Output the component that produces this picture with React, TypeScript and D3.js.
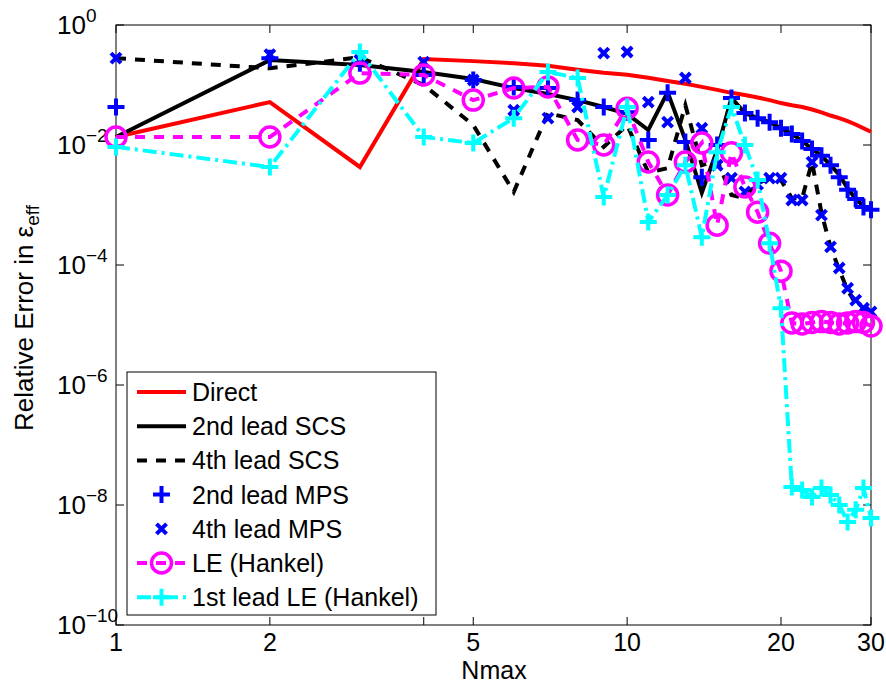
import React from 'react';
import * as d3 from 'd3';

const nmax = [1, 2, 3, 4, 5, 6, 7, 8, 9, 10, 11, 12, 13, 14, 15, 16, 17, 18, 19, 20, 21, 22, 23, 24, 25, 26, 27, 28, 29, 30];

const direct = [0.0136, 0.052, 0.0043, 0.27, 0.25, 0.23, 0.21, 0.18, 0.16, 0.148, 0.132, 0.117, 0.105, 0.093, 0.083, 0.074, 0.068, 0.062, 0.056, 0.05, 0.046, 0.043, 0.039, 0.035, 0.031, 0.028, 0.025, 0.022, 0.019, 0.0166];

const scs2 = [0.0136, 0.26, 0.215, 0.165, 0.126, 0.089, 0.071, 0.056, 0.043, 0.033, 0.0178, 0.076, 0.0121, 0.0016, 0.0083, 0.061, 0.034, 0.028, 0.024, 0.019, 0.0153, 0.0117, 0.0086, 0.0066, 0.0046, 0.0032, 0.0019, 0.00126, 0.00096, 0.00083];

const scs4 = [0.28, 0.19, 0.29, 0.1, 0.0215, 0.00165, 0.034, 0.026, 0.0093, 0.0215, 0.0035, 0.0041, 0.046, 0.0046, 0.0056, 0.00147, 0.0013, 0.0023, 0.0028, 0.0026, 0.0013, 0.0013, 0.0052, 0.00074, 0.0002, 8.3e-5, 3.8e-5, 2.3e-5, 1.8e-5, 1.65e-5];

const mps2 = [0.043, 0.28, 0.23, 0.147, 0.121, 0.093, 0.089, 0.056, 0.043, 0.035, 0.0121, 0.074, 0.0112, 0.0029, 0.01, 0.061, 0.034, 0.028, 0.024, 0.019, 0.0153, 0.0117, 0.0086, 0.0066, 0.0046, 0.0029, 0.0018, 0.00126, 0.00093, 0.00083];

const mps4 = [0.28, 0.32, 0.26, 0.24, 0.121, 0.038, 0.028, 0.043, 0.34, 0.355, 0.052, 0.024, 0.131, 0.019, 0.0046, 0.0028, 0.00165, 0.0022, 0.0028, 0.0028, 0.00121, 0.00121, 0.0052, 0.00068, 0.0002, 8.9e-5, 4.1e-5, 2.6e-5, 1.9e-5, 1.65e-5];

const leHankel = [0.0136, 0.0136, 0.158, 0.147, 0.056, 0.089, 0.093, 0.0121, 0.01, 0.041, 0.0052, 0.00147, 0.0052, 0.0108, 0.00046, 0.0074, 0.002, 0.00076, 0.00023, 7.9e-5, 1.08e-5, 1.04e-5, 1.1e-5, 1.14e-5, 1.1e-5, 1.04e-5, 1.08e-5, 1.14e-5, 1.1e-5, 9.6e-6];

const le1Hankel = [0.0093, 0.0043, 0.355, 0.0136, 0.0108, 0.028, 0.165, 0.131, 0.00136, 0.043, 0.00052, 0.00147, 0.0046, 0.00029, 0.0076, 0.043, 0.01, 0.0026, 0.00023, 1.9e-5, 2.0e-8, 1.78e-8, 1.36e-8, 1.92e-8, 1.47e-8, 1.0e-8, 5.2e-9, 8.3e-9, 1.92e-8, 6.1e-9];

const seriesNames = ['Direct', '2nd lead SCS', '4th lead SCS', '2nd lead MPS', '4th lead MPS', 'LE (Hankel)', '1st lead LE (Hankel)'];

const xTicks = [1, 2, 4, 5, 10, 20, 30];
const xTickLabels = ['1', '2', '', '5', '10', '20', '30'];
const yTickExps = [0, -2, -4, -6, -8, -10];

const FONT = '"Liberation Sans", Arial, Helvetica, sans-serif';

type Marker = 'none' | 'plus' | 'x' | 'circle';
interface Series {
  name: string;
  data: number[];
  color: string;
  dash: string | null;
  line: boolean;
  marker: Marker;
}

const series: Series[] = [
  { name: seriesNames[0], data: direct, color: '#ff0000', dash: null, line: true, marker: 'none' },
  { name: seriesNames[1], data: scs2, color: '#000000', dash: null, line: true, marker: 'none' },
  { name: seriesNames[2], data: scs4, color: '#000000', dash: '10,9', line: true, marker: 'none' },
  { name: seriesNames[3], data: mps2, color: '#0000ff', dash: null, line: false, marker: 'plus' },
  { name: seriesNames[4], data: mps4, color: '#0000ff', dash: null, line: false, marker: 'x' },
  { name: seriesNames[5], data: leHankel, color: '#ff00ff', dash: '10,9', line: true, marker: 'circle' },
  { name: seriesNames[6], data: le1Hankel, color: '#00ffff', dash: '14,5,3,5', line: true, marker: 'plus' },
];

const L = 116, R = 871, T = 25, B = 625;

function MarkerShape({ type, cx, cy, color }: { type: Marker; cx: number; cy: number; color: string }) {
  if (type === 'plus') {
    const s = 8.5;
    return <path d={`M${cx - s},${cy}H${cx + s}M${cx},${cy - s}V${cy + s}`} stroke={color} strokeWidth={4} fill="none" />;
  }
  if (type === 'x') {
    const s = 5;
    return <path d={`M${cx - s},${cy - s}L${cx + s},${cy + s}M${cx - s},${cy + s}L${cx + s},${cy - s}`} stroke={color} strokeWidth={4} fill="none" />;
  }
  if (type === 'circle') {
    return <circle cx={cx} cy={cy} r={10} stroke={color} strokeWidth={3.5} fill="none" />;
  }
  return null;
}

export default function App() {
  const x = d3.scaleLog().domain([1, 30]).range([L, R]);
  const y = d3.scaleLog().domain([1e-10, 1]).range([B, T]);
  const line = d3.line<[number, number]>().x(d => x(d[0])).y(d => y(d[1]));

  const legendX = 127, legendY = 372, legendW = 309, legendH = 243;
  const rowY0 = 392, rowStep = 34.2;
  const sampleX0 = 137, sampleX1 = 186, textX = 192;

  return (
    <svg width={886} height={687} style={{ position: 'fixed', left: 0, top: 0, background: '#fff' }} fontFamily={FONT}>
      <rect x={0} y={0} width={886} height={687} fill="#fff" />
      <rect x={L} y={T} width={R - L} height={B - T} fill="#fff" stroke="#000" strokeWidth={1} />
      {xTicks.map((t, i) => (
        <g key={'xt' + i}>
          <line x1={x(t)} x2={x(t)} y1={B} y2={B - 8} stroke="#000" strokeWidth={1} />
          <line x1={x(t)} x2={x(t)} y1={T} y2={T + 8} stroke="#000" strokeWidth={1} />
          {xTickLabels[i] && (
            <text x={x(t)} y={651} textAnchor="middle" fontSize={25} fill="#000">{xTickLabels[i]}</text>
          )}
        </g>
      ))}
      {yTickExps.map((e, i) => (
        <g key={'yt' + i}>
          <line x1={L} x2={L + 8} y1={y(Math.pow(10, e))} y2={y(Math.pow(10, e))} stroke="#000" strokeWidth={1} />
          <line x1={R} x2={R - 8} y1={y(Math.pow(10, e))} y2={y(Math.pow(10, e))} stroke="#000" strokeWidth={1} />
          <text x={57} y={y(Math.pow(10, e)) + 9} fontSize={26} fill="#000">
            10
            <tspan dy={-12} fontSize={19}>{e === 0 ? '0' : '\u2212' + Math.abs(e)}</tspan>
          </text>
        </g>
      ))}
      <text x={494} y={679} textAnchor="middle" fontSize={25} fill="#000">Nmax</text>
      <text transform="translate(33,318) rotate(-90)" textAnchor="middle" fontSize={26} fill="#000">
        Relative Error in ε<tspan dy={6} fontSize={19}>eff</tspan>
      </text>
      {series.map((s, si) => {
        const pts: [number, number][] = nmax.map((n, i) => [n, s.data[i]]);
        return (
          <g key={'s' + si}>
            {s.line && (
              <path d={line(pts) || ''} fill="none" stroke={s.color} strokeWidth={4}
                strokeDasharray={s.dash || undefined} strokeLinejoin="miter" strokeLinecap="butt" />
            )}
            {s.marker !== 'none' && pts.map((p, i) => (
              <MarkerShape key={i} type={s.marker} cx={x(p[0])} cy={y(p[1])} color={s.color} />
            ))}
          </g>
        );
      })}
      <rect x={legendX} y={legendY} width={legendW} height={legendH} fill="#fff" stroke="#000" strokeWidth={1} />
      {series.map((s, si) => {
        const ry = rowY0 + si * rowStep;
        return (
          <g key={'lg' + si}>
            {s.line && (
              <line x1={sampleX0} x2={sampleX1} y1={ry} y2={ry} stroke={s.color} strokeWidth={4}
                strokeDasharray={s.dash || undefined} />
            )}
            {s.marker !== 'none' && (
              <MarkerShape type={s.marker} cx={(sampleX0 + sampleX1) / 2} cy={ry} color={s.color} />
            )}
            <text x={textX} y={ry + 9} fontSize={25} fill="#000">{s.name}</text>
          </g>
        );
      })}
    </svg>
  );
}
